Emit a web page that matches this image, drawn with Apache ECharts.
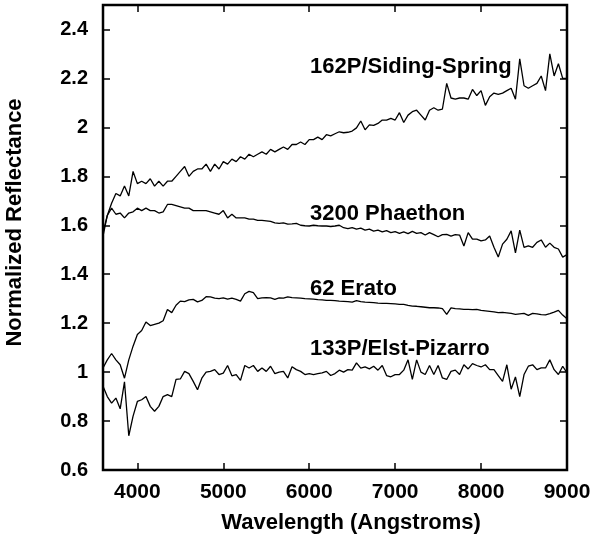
<!DOCTYPE html>
<html>
<head>
<meta charset="utf-8">
<script src="https://cdn.jsdelivr.net/npm/echarts@6/dist/echarts.min.js"></script>
<style>
html, body { margin: 0; padding: 0; background: #fff; }
#chart { width: 600px; height: 540px; }
</style>
</head>
<body>
<div id="chart"></div>
<script>
// wavelength grid (Angstroms)
var waves = [3600,3650,3700,3750,3800,3850,3900,3950,4000,4050,4100,4150,4200,4250,4300,4350,4400,4450,4500,4550,
    4600,4650,4700,4750,4800,4850,4900,4950,5000,5050,5100,5150,5200,5250,5300,5350,5400,5450,5500,5550,
    5600,5650,5700,5750,5800,5850,5900,5950,6000,6050,6100,6150,6200,6250,6300,6350,6400,6450,6500,6550,
    6600,6650,6700,6750,6800,6850,6900,6950,7000,7050,7100,7150,7200,7250,7300,7350,7400,7450,7500,7550,
    7600,7650,7700,7750,7800,7850,7900,7950,8000,8050,8100,8150,8200,8250,8300,8350,8400,8450,8500,8550,
    8600,8650,8700,8750,8800,8850,8900,8950,9000];

var sidingSpring = [1.57,1.64,1.69,1.73,1.72,1.76,1.72,1.82,1.77,1.78,1.77,1.79,1.76,1.78,1.76,1.78,1.78,1.80,1.82,1.84,
    1.80,1.82,1.83,1.83,1.85,1.82,1.85,1.83,1.86,1.85,1.87,1.86,1.88,1.87,1.89,1.88,1.89,1.90,1.89,1.91,
    1.90,1.91,1.92,1.91,1.93,1.93,1.94,1.93,1.95,1.95,1.96,1.95,1.97,1.965,1.974,1.982,1.978,1.98,1.985,1.998,
    2.026,1.99,2.01,2.008,2.016,2.03,2.03,2.037,2.03,2.06,2.02,2.05,2.064,2.07,2.05,2.03,2.07,2.08,2.07,2.075,
    2.18,2.12,2.115,2.12,2.12,2.115,2.155,2.13,2.15,2.09,2.125,2.14,2.135,2.14,2.15,2.16,2.115,2.28,2.17,2.16,
    2.17,2.18,2.21,2.15,2.30,2.21,2.26,2.20,2.20];

var phaethon = [1.556,1.64,1.67,1.645,1.65,1.63,1.65,1.655,1.67,1.66,1.67,1.66,1.66,1.65,1.655,1.685,1.685,1.68,1.675,1.67,
    1.67,1.66,1.66,1.66,1.66,1.655,1.65,1.645,1.66,1.63,1.645,1.63,1.63,1.63,1.625,1.625,1.62,1.62,1.618,1.616,
    1.61,1.608,1.61,1.605,1.606,1.608,1.60,1.598,1.597,1.60,1.598,1.597,1.597,1.595,1.597,1.60,1.59,1.586,1.59,1.584,
    1.588,1.58,1.584,1.576,1.58,1.573,1.578,1.57,1.574,1.567,1.573,1.566,1.575,1.567,1.57,1.56,1.57,1.562,1.553,1.562,
    1.563,1.556,1.562,1.56,1.515,1.57,1.543,1.543,1.536,1.54,1.556,1.51,1.47,1.523,1.543,1.577,1.487,1.58,1.51,1.516,
    1.51,1.53,1.54,1.51,1.527,1.51,1.503,1.47,1.48];

var erato = [1.017,1.05,1.076,1.05,1.03,0.975,1.05,1.106,1.154,1.17,1.205,1.19,1.195,1.2,1.21,1.256,1.243,1.273,1.29,1.288,
    1.295,1.297,1.287,1.293,1.308,1.307,1.302,1.30,1.303,1.298,1.302,1.297,1.29,1.32,1.33,1.325,1.30,1.303,1.304,1.303,
    1.297,1.303,1.302,1.307,1.304,1.303,1.302,1.30,1.299,1.298,1.296,1.295,1.293,1.293,1.292,1.29,1.289,1.288,1.286,1.292,
    1.288,1.286,1.285,1.284,1.282,1.281,1.281,1.28,1.279,1.277,1.277,1.273,1.27,1.269,1.267,1.265,1.263,1.263,1.262,1.259,
    1.236,1.262,1.259,1.258,1.256,1.256,1.255,1.256,1.252,1.25,1.248,1.246,1.243,1.244,1.242,1.24,1.236,1.238,1.24,1.232,
    1.24,1.238,1.235,1.234,1.239,1.245,1.252,1.233,1.218];

var elstPizarro = [0.942,0.90,0.873,0.894,0.85,0.96,0.74,0.82,0.88,0.887,0.90,0.86,0.84,0.86,0.90,0.908,0.90,0.97,0.972,1.003,
    0.994,0.962,0.928,0.975,1.0,1.003,1.01,0.99,0.996,1.027,0.985,0.99,0.966,1.027,1.017,1.027,1.003,1.017,1.003,1.024,
    0.994,1.0,1.003,0.976,1.022,1.01,1.003,0.99,0.994,0.99,0.994,0.997,1.003,0.986,0.994,1.008,1.0,1.01,1.008,1.038,
    1.016,1.021,1.013,1.024,1.008,1.027,0.986,0.981,0.99,0.99,1.008,1.05,0.97,1.05,1.0,0.99,1.027,0.99,1.027,0.976,
    0.97,1.003,1.008,0.99,1.03,1.013,1.035,1.027,1.021,1.03,1.01,1.01,0.986,0.962,1.03,0.93,0.98,0.90,0.99,1.024,
    1.03,1.01,1.017,1.017,1.05,1.01,0.99,1.024,0.997];

var seriesNames = ['162P/Siding-Spring', '3200 Phaethon', '62 Erato', '133P/Elst-Pizarro'];
var seriesValues = [sidingSpring, phaethon, erato, elstPizarro];

var FONT = '"Liberation Sans", Arial, Helvetica, sans-serif';

function pairs(vals) {
    return waves.map(function (w, i) { return [w, vals[i]]; });
}

var chart = echarts.init(document.getElementById('chart'));

var tickStyle = { show: true, inside: true, length: 7, lineStyle: { color: '#000', width: 1.5 } };

var option = {
    animation: false,
    backgroundColor: '#fff',
    grid: {
        left: 103,
        right: 33,
        top: 5,
        bottom: 70,
        outerBoundsMode: 'none',
        containLabel: false,
        show: true,
        borderColor: '#000',
        borderWidth: 2.5,
        backgroundColor: 'transparent'
    },
    xAxis: [
        {
            type: 'value',
            min: 3600,
            max: 9000,
            position: 'bottom',
            name: 'Wavelength (Angstroms)',
            nameLocation: 'middle',
            nameGap: 42,
            nameTextStyle: { fontFamily: FONT, fontWeight: 'bold', fontSize: 22, color: '#000', padding: [0, 0, 0, 32] },
            axisLine: { show: false },
            axisTick: tickStyle,
            splitLine: { show: false },
            axisLabel: {
                margin: 12,
                fontFamily: FONT, fontWeight: 'bold', fontSize: 21, color: '#000',
                showMinLabel: false,
                formatter: function (v) { return v % 1000 === 0 ? String(v) : ''; }
            }
        },
        {
            type: 'value',
            min: 3600,
            max: 9000,
            position: 'top',
            axisLine: { show: false },
            axisTick: tickStyle,
            splitLine: { show: false },
            axisLabel: { show: false }
        }
    ],
    yAxis: [
        {
            type: 'value',
            min: 0.6,
            max: 2.5,
            interval: 0.2,
            position: 'left',
            name: 'Normalized Reflectance',
            nameLocation: 'middle',
            nameGap: 77,
            nameTextStyle: { fontFamily: FONT, fontWeight: 'bold', fontSize: 22, color: '#000', padding: [0, 0, 0, 30] },
            axisLine: { show: false },
            axisTick: tickStyle,
            splitLine: { show: false },
            axisLabel: {
                margin: 15,
                fontFamily: FONT, fontWeight: 'bold', fontSize: 20, color: '#000',
                showMaxLabel: false,
                formatter: function (v) {
                    var r = Math.round(v * 10) / 10;
                    return Math.abs(v - r) < 1e-6 && Math.round(r * 10) % 2 === 0 ? String(r) : '';
                }
            }
        },
        {
            type: 'value',
            min: 0.6,
            max: 2.5,
            interval: 0.2,
            position: 'right',
            axisLine: { show: false },
            axisTick: tickStyle,
            splitLine: { show: false },
            axisLabel: { show: false }
        }
    ],
    series: seriesValues.map(function (vals, i) {
        return {
            name: seriesNames[i],
            type: 'line',
            data: pairs(vals),
            showSymbol: false,
            symbol: 'none',
            lineStyle: { color: '#000', width: 1.3 },
            z: 3
        };
    }),
    graphic: [
        { type: 'text', x: 310, y: 67, style: { text: seriesNames[0], font: 'bold 22px ' + FONT, fill: '#000', verticalAlign: 'middle' } },
        { type: 'text', x: 310, y: 214, style: { text: seriesNames[1], font: 'bold 22px ' + FONT, fill: '#000', verticalAlign: 'middle' } },
        { type: 'text', x: 310, y: 289, style: { text: seriesNames[2], font: 'bold 22px ' + FONT, fill: '#000', verticalAlign: 'middle' } },
        { type: 'text', x: 310, y: 349, style: { text: seriesNames[3], font: 'bold 22px ' + FONT, fill: '#000', verticalAlign: 'middle' } }
    ]
};

chart.setOption(option);
</script>
</body>
</html>
